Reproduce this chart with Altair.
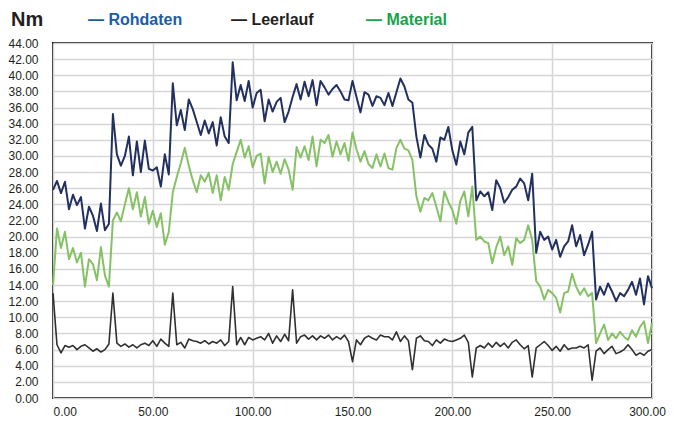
import altair as alt
import pandas as pd

# sample times (every 2 s)
t_values = list(range(0, 301, 2))

rohdaten = [
    25.8, 26.9, 25.4, 26.8, 23.4, 25.2, 23.9, 24.9, 21.0, 23.7,
    22.6, 20.7, 24.1, 20.8, 21.6, 35.2, 30.2, 28.8, 30.0, 32.4,
    27.6, 31.8, 28.0, 31.9, 28.4, 28.2, 28.6, 26.2, 30.2, 27.7,
    39.0, 33.8, 35.7, 33.2, 37.0, 35.8, 34.2, 32.6, 34.4, 32.8,
    34.2, 31.3, 34.8, 32.4, 31.6, 41.6, 36.9, 38.8, 36.8, 39.3,
    36.0, 37.8, 38.2, 34.3, 37.0, 35.5, 36.7, 37.2, 34.2, 35.5,
    37.3, 38.9, 37.0, 39.2, 37.4, 39.4, 36.3, 39.3, 38.5, 37.6,
    38.3, 38.8, 38.0, 37.0, 36.9, 39.3, 37.3, 35.4, 37.9, 37.6,
    36.2, 37.4, 37.2, 36.3, 37.8, 36.2, 37.9, 39.6, 38.6, 37.0,
    36.6, 32.4, 29.8, 32.6, 31.4, 30.9, 29.3, 32.3, 32.0, 33.6,
    30.7, 28.9, 31.8, 30.2, 32.9, 33.6, 24.5, 25.6, 25.0, 25.5,
    23.3, 27.0, 26.0, 24.2, 24.9, 25.8, 26.2, 27.2, 26.6, 24.5,
    27.8, 18.0, 20.6, 19.6, 20.0, 18.4, 19.6, 17.5, 18.8, 19.4,
    21.4, 18.8, 20.2, 17.7, 19.0, 20.6, 12.2, 13.8, 12.8, 14.2,
    13.2, 12.0, 13.0, 12.6, 13.4, 14.4, 12.8, 14.8, 11.6, 15.1,
    13.6,
]

material = [
    14.0, 21.0, 18.6, 20.6, 17.2, 18.6, 16.8, 18.0, 13.8, 17.2,
    16.6, 14.6, 18.7, 15.2, 13.8, 22.0, 23.0, 21.9, 24.0, 26.0,
    23.4, 25.5, 22.5, 24.9, 21.6, 23.2, 21.2, 22.9, 19.0, 20.6,
    25.5, 27.4, 29.1, 31.0, 28.8, 27.0, 25.5, 27.6, 26.8, 27.9,
    25.4, 27.6, 24.5, 27.4, 25.8, 29.0, 30.5, 32.0, 29.8, 31.2,
    28.6, 30.0, 30.3, 26.6, 29.9, 28.0, 29.3, 27.8, 29.6, 28.3,
    25.8, 31.1, 29.8, 31.2, 29.5, 32.4, 28.7, 32.0, 31.6, 32.6,
    29.9, 31.8, 30.2, 31.6, 29.4, 32.9, 30.8, 29.3, 30.6, 29.0,
    28.5, 30.2, 28.7, 30.3, 28.5, 28.3, 31.0, 32.0, 30.9, 30.7,
    29.5, 25.0, 23.1, 24.8, 24.5, 25.4, 23.7, 21.9, 25.6, 24.3,
    23.3, 21.6, 24.4, 25.6, 22.5, 26.2, 19.6, 20.0, 19.4, 19.2,
    16.7, 18.7, 20.0, 17.7, 18.8, 16.5, 19.8, 19.2, 19.6, 21.4,
    19.6, 14.5, 13.8, 12.2, 13.4, 13.0, 12.4, 10.6, 13.0, 13.2,
    15.4, 13.8, 12.8, 13.6, 12.6, 13.0, 6.8, 8.0, 9.1, 7.2,
    8.0, 7.4, 8.2, 7.6, 7.2, 8.4, 7.6, 8.8, 9.5, 6.8,
    9.3,
]

leerlauf = [
    13.0, 6.6, 5.6, 6.5, 6.3, 6.5, 6.0, 6.4, 6.6, 6.2,
    5.8, 6.1, 5.7, 6.0, 6.7, 13.0, 6.8, 6.4, 6.7, 6.3,
    6.6, 6.2, 6.6, 6.8, 6.5, 7.1, 6.4, 7.3, 6.8, 6.4,
    13.0, 6.6, 6.9, 6.2, 7.3, 7.1, 7.0, 6.8, 7.1, 6.7,
    7.0, 6.8, 7.2, 6.5, 7.0, 13.8, 6.6, 7.5, 6.6, 7.5,
    7.2, 7.4, 7.6, 7.2, 8.0, 6.8, 7.7, 7.0, 7.9, 7.1,
    13.4, 6.8, 7.6, 7.8, 7.3, 7.7, 7.2, 7.7, 7.4, 7.8,
    7.2, 7.6, 7.3, 7.8, 7.0, 4.5, 7.2, 6.6, 7.4, 7.7,
    7.4, 7.2, 7.8, 7.6, 7.6, 7.2, 8.2, 7.0, 7.7, 7.1,
    3.5, 7.4, 7.7, 7.1, 7.0, 6.5, 7.2, 6.8, 7.3, 7.1,
    7.0, 7.2, 7.4, 7.8, 6.9, 2.6, 6.2, 6.5, 6.2, 6.8,
    6.3, 6.9, 6.4, 6.8, 6.2, 6.9, 7.2, 6.6, 6.1, 6.5,
    2.6, 6.2, 6.6, 7.0, 6.5, 5.9, 6.4, 5.8, 6.6, 6.0,
    6.2, 6.2, 6.4, 6.2, 6.6, 2.2, 5.8, 6.2, 5.5, 6.0,
    6.4, 5.5, 5.7, 6.0, 6.6, 6.0, 5.3, 5.6, 5.3, 5.8,
    6.0,
]

x_ticks = [0, 50, 100, 150, 200, 250, 300]
y_ticks = list(range(0, 45, 2))

series_names = ["Rohdaten", "Leerlauf", "Material"]
legend_colors = ["#1a5ca8", "#231f20", "#17a34a"]
line_colors = {"Rohdaten": "#22305f", "Leerlauf": "#303030", "Material": "#86c166"}
line_widths = {"Rohdaten": 2, "Leerlauf": 1.6, "Material": 2}

LABEL_FONT = "Liberation Sans"

x_axis = alt.Axis(
    values=x_ticks, format=".2f", title=None, grid=True,
    gridColor="#d6d6d6", gridWidth=1.5, ticks=False, domain=False,
    labelFont=LABEL_FONT, labelFontSize=12, labelColor="#231f20",
    labelPadding=8,
    labelAlign={"condition": {"test": "datum.value == 0", "value": "left"}, "value": "center"},
    labelOffset={"condition": {"test": "datum.value == 300", "value": -5}, "value": 0},
)
y_axis = alt.Axis(
    values=y_ticks, format=".2f", title=None, grid=True,
    gridColor="#d6d6d6", gridWidth=1.5, ticks=False, domain=False,
    labelFont=LABEL_FONT, labelFontSize=12, labelColor="#231f20",
    labelPadding=15,
)
x_scale = alt.Scale(domain=[0, 300], nice=False, zero=False)
y_scale = alt.Scale(domain=[0, 44], nice=False)

series_values = {"Rohdaten": rohdaten, "Leerlauf": leerlauf, "Material": material}


def line_layer(name):
    df = pd.DataFrame({"t": t_values, "Nm": series_values[name]})
    return alt.Chart(df).mark_line(
        color=line_colors[name], strokeWidth=line_widths[name], strokeJoin="round"
    ).encode(
        x=alt.X("t:Q", scale=x_scale, axis=x_axis),
        y=alt.Y("Nm:Q", scale=y_scale, axis=y_axis),
    )


one_row = alt.Data(values=[{}])

title = alt.Chart(one_row).mark_text(
    text="Nm", font=LABEL_FONT, fontSize=20, fontWeight="bold", color="#231f20",
    align="left", baseline="alphabetic",
).encode(x=alt.value(-42), y=alt.value(-17))

legend_x = [35, 178, 313]
legend_layers = [
    alt.Chart(one_row).mark_text(
        text="\u2014 " + name, font=LABEL_FONT, fontSize=16, fontWeight="bold",
        color=col, align="left", baseline="alphabetic",
    ).encode(x=alt.value(px), y=alt.value(-18))
    for name, col, px in zip(series_names, legend_colors, legend_x)
]

chart = alt.layer(
    line_layer("Leerlauf"),
    line_layer("Material"),
    line_layer("Rohdaten"),
    title,
    *legend_layers,
).properties(
    width=599,
    height=355,
    autosize=alt.AutoSizeParams(type="none"),
    padding={"left": 45, "top": 35, "right": 14, "bottom": 22},
    background="white",
).configure_view(stroke="#1e1e1e", strokeWidth=2)

chart.save("out.html", embed_options={"renderer": "svg", "actions": False})
